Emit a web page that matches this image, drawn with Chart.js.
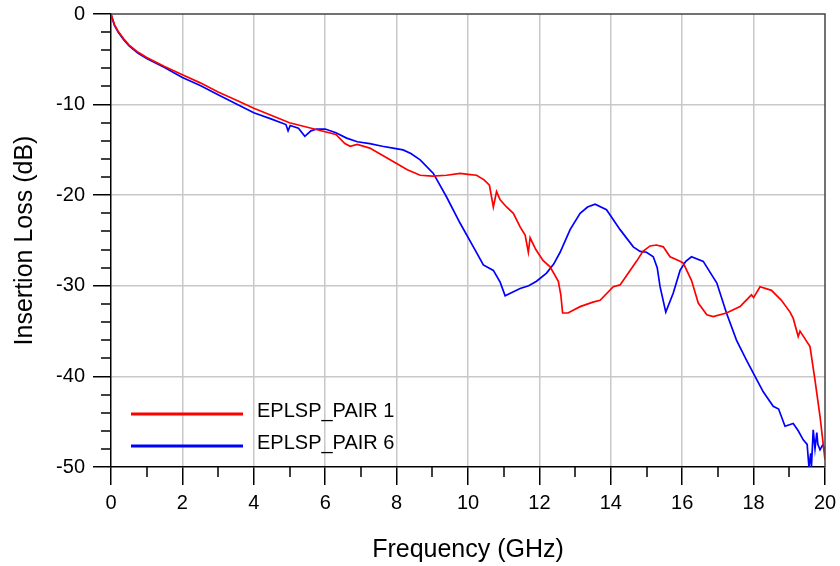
<!DOCTYPE html>
<html>
<head>
<meta charset="utf-8">
<script src="https://cdn.jsdelivr.net/npm/chart.js@4.4.1/dist/chart.umd.min.js"></script>
<style>
  html, body { margin: 0; padding: 0; background: #fff; }
  #wrap { width: 840px; height: 566px; }
</style>
</head>
<body>
<div id="wrap"><canvas id="chart" width="840" height="566"></canvas></div>
<script>
// EPLSP_PAIR 1 (red)
const pair1Freq = [0, 0.05, 0.1, 0.2, 0.35, 0.5, 0.75, 1.0, 1.5, 2.0, 2.5, 3.0, 3.5, 4.0, 4.5, 5.0, 5.5, 6.0, 6.3, 6.55, 6.7, 6.9, 7.25, 7.6, 8.0, 8.3, 8.66, 9.0, 9.4, 9.78, 10.0, 10.24, 10.45, 10.6, 10.71, 10.8, 10.9, 11.08, 11.27, 11.46, 11.6, 11.69, 11.74, 11.9, 12.1, 12.3, 12.53, 12.6, 12.65, 12.8, 13.14, 13.5, 13.7, 14.07, 14.26, 14.54, 14.72, 14.9, 15.1, 15.28, 15.47, 15.66, 15.94, 16.03, 16.26, 16.45, 16.69, 16.87, 17.24, 17.62, 17.94, 18.0, 18.18, 18.5, 18.78, 19.02, 19.11, 19.25, 19.3, 19.58, 19.72, 19.86, 20.0];
const pair1Loss = [0, -0.6, -1.2, -1.9, -2.7, -3.4, -4.2, -4.8, -5.8, -6.7, -7.6, -8.6, -9.5, -10.4, -11.2, -12.0, -12.5, -13.0, -13.3, -14.3, -14.6, -14.4, -14.8, -15.6, -16.5, -17.2, -17.8, -17.9, -17.8, -17.6, -17.7, -17.8, -18.3, -18.9, -21.3, -19.6, -20.5, -21.3, -22.0, -23.5, -24.4, -26.3, -24.7, -26.0, -27.2, -27.9, -29.5, -31.0, -33.0, -33.0, -32.3, -31.8, -31.6, -30.1, -29.9, -28.3, -27.3, -26.2, -25.6, -25.5, -25.7, -26.8, -27.3, -27.5, -29.4, -31.9, -33.2, -33.4, -33.0, -32.3, -31.0, -31.3, -30.1, -30.5, -31.6, -32.9, -33.6, -35.6, -35.0, -36.7, -40.4, -44.4, -49.2];

// EPLSP_PAIR 6 (blue)
const pair6Freq = [0, 0.05, 0.1, 0.2, 0.35, 0.5, 0.75, 1.0, 1.5, 2.0, 2.5, 3.0, 3.5, 4.0, 4.5, 4.9, 4.96, 5.02, 5.25, 5.43, 5.6, 5.76, 6.0, 6.3, 6.6, 6.9, 7.25, 7.6, 7.9, 8.18, 8.4, 8.66, 9.03, 9.4, 9.78, 10.15, 10.43, 10.71, 10.9, 11.04, 11.2, 11.46, 11.7, 11.92, 12.2, 12.4, 12.58, 12.86, 13.14, 13.35, 13.56, 13.88, 14.26, 14.63, 14.82, 15.0, 15.19, 15.3, 15.38, 15.54, 15.75, 15.94, 16.1, 16.26, 16.59, 16.97, 17.24, 17.52, 17.8, 18.04, 18.27, 18.55, 18.7, 18.88, 19.11, 19.25, 19.39, 19.5, 19.55, 19.6, 19.62, 19.67, 19.72, 19.77, 19.8, 19.86, 19.93, 20.0];
const pair6Loss = [0, -0.7, -1.3, -2.0, -2.8, -3.5, -4.3, -4.9, -5.9, -7.0, -7.9, -8.9, -9.9, -10.9, -11.6, -12.2, -12.9, -12.3, -12.6, -13.5, -12.9, -12.7, -12.7, -13.1, -13.7, -14.1, -14.3, -14.6, -14.8, -15.0, -15.4, -16.1, -17.6, -20.2, -23.1, -25.7, -27.7, -28.3, -29.6, -31.1, -30.8, -30.3, -30.0, -29.5, -28.6, -27.6, -26.3, -23.8, -22.0, -21.3, -21.0, -21.6, -23.8, -25.7, -26.2, -26.3, -26.8, -28.0, -30.1, -32.9, -30.8, -28.3, -27.3, -26.8, -27.3, -29.7, -33.0, -36.0, -38.2, -40.0, -41.7, -43.3, -43.6, -45.5, -45.2, -46.0, -47.0, -47.5, -50.0, -48.5, -50.0, -45.9, -48.0, -46.2, -47.5, -48.1, -47.6, -48.0];

const xMin = 0, xMax = 20;
const yMin = -50, yMax = 0;

const toPoints = (xs, ys) => xs.map((x, i) => ({ x, y: ys[i] }));

Chart.defaults.font.family = '"Liberation Sans", Arial, sans-serif';
Chart.defaults.color = '#000';

// minor ticks, top/right frame and the in-plot legend
const frameAndLegend = {
  id: 'frameAndLegend',
  afterDraw(chart) {
    const { ctx, chartArea: a, scales } = chart;
    ctx.save();
    ctx.strokeStyle = '#000';
    ctx.lineWidth = 1.5;
    for (let v = 1; v < xMax; v += 2) {
      const px = Math.round(scales.x.getPixelForValue(v));
      ctx.beginPath();
      ctx.moveTo(px, a.bottom);
      ctx.lineTo(px, a.bottom + 10);
      ctx.stroke();
    }
    for (let v = yMin + 2; v < yMax; v += 2) {
      if (v % 10 === 0) continue;
      const py = Math.round(scales.y.getPixelForValue(v));
      ctx.beginPath();
      ctx.moveTo(a.left - 10, py);
      ctx.lineTo(a.left, py);
      ctx.stroke();
    }
    ctx.strokeStyle = '#444';
    ctx.beginPath();
    ctx.moveTo(a.left, a.top);
    ctx.lineTo(a.right, a.top);
    ctx.lineTo(a.right, a.bottom);
    ctx.stroke();

    // legend
    ctx.font = '20px "Liberation Sans", Arial, sans-serif';
    ctx.textBaseline = 'middle';
    ctx.fillStyle = '#000';
    const rows = [414, 446];
    chart.data.datasets.forEach((ds, i) => {
      const y = rows[i];
      ctx.strokeStyle = ds.borderColor;
      ctx.lineWidth = 3;
      ctx.beginPath();
      ctx.moveTo(a.left + 20, y);
      ctx.lineTo(a.left + 132, y);
      ctx.stroke();
      ctx.fillText(ds.label, a.left + 146, y - 3);
    });
    ctx.restore();
  }
};

new Chart(document.getElementById('chart').getContext('2d'), {
  type: 'line',
  data: {
    datasets: [
      {
        label: 'EPLSP_PAIR 1',
        data: toPoints(pair1Freq, pair1Loss),
        borderColor: '#ff0000',
        borderWidth: 1.7,
        pointRadius: 0,
        tension: 0
      },
      {
        label: 'EPLSP_PAIR 6',
        data: toPoints(pair6Freq, pair6Loss),
        borderColor: '#0000ff',
        borderWidth: 1.7,
        pointRadius: 0,
        tension: 0
      }
    ]
  },
  options: {
    responsive: false,
    animation: false,
    layout: { padding: { top: 14, right: 15, left: 0, bottom: 0 } },
    plugins: {
      legend: { display: false },
      tooltip: { enabled: false }
    },
    scales: {
      x: {
        type: 'linear',
        min: xMin,
        max: xMax,
        afterFit: s => {
          s.height = 99;
          s.paddingLeft = 0;
          s.paddingRight = 0;
        },
        ticks: {
          stepSize: 1,
          autoSkip: false,
          maxRotation: 0,
          padding: 6,
          font: { size: 20 },
          callback: v => (v % 2 === 0 ? String(v) : '')
        },
        grid: {
          color: c => (c.tick && c.tick.value % 2 === 0 && c.tick.value > xMin && c.tick.value < xMax ? '#c8c8c8' : 'rgba(0,0,0,0)'),
          lineWidth: 1.5,
          tickLength: 18,
          tickColor: c => (c.tick && c.tick.value % 2 === 0 ? '#000' : 'rgba(0,0,0,0)'),
          tickWidth: 1.5
        },
        border: { color: '#000', width: 1.5 },
        title: {
          display: true,
          text: 'Frequency (GHz)',
          font: { size: 25 },
          padding: { top: 0, bottom: 1 }
        }
      },
      y: {
        min: yMin,
        max: yMax,
        afterFit: s => {
          s.width = 111;
          s.paddingTop = 0;
          s.paddingBottom = 0;
        },
        ticks: {
          stepSize: 2,
          autoSkip: false,
          padding: 8,
          font: { size: 20 },
          callback: v => (v % 10 === 0 ? String(v) : '')
        },
        grid: {
          color: c => (c.tick && c.tick.value % 10 === 0 && c.tick.value > yMin && c.tick.value < yMax ? '#c8c8c8' : 'rgba(0,0,0,0)'),
          lineWidth: 1.5,
          tickLength: 18,
          tickColor: c => (c.tick && c.tick.value % 10 === 0 ? '#000' : 'rgba(0,0,0,0)'),
          tickWidth: 1.5
        },
        border: { color: '#000', width: 1.5 },
        title: {
          display: true,
          text: 'Insertion Loss (dB)',
          font: { size: 25 },
          padding: { top: 10, bottom: 0 }
        }
      }
    }
  },
  plugins: [frameAndLegend]
});
</script>
</body>
</html>
